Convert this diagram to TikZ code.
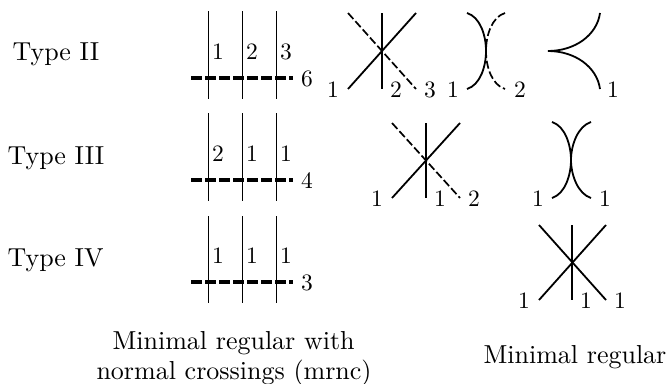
\documentclass[tikz,border=0pt]{standalone}
\begin{document}
\begin{tikzpicture}[x=1pt,y=-1pt,
  txt/.style={inner sep=0pt,scale=2.6,anchor=base west},
  num/.style={inner sep=0pt,scale=2.35,anchor=base},
  vert/.style={line width=1.0pt},
  hdash/.style={line width=3.2pt,dash pattern=on 11pt off 3pt},
  solid line/.style={line width=1.8pt},
  dash line/.style={line width=1.7pt,dash pattern=on 8pt off 3pt},
]
\useasboundingbox (0,0) rectangle (669,383);
% left labels
\node[txt] (t2) at (12,60) {Type II};
\node[txt] (t3) at (7,164) {Type III};
\node[txt] (t4) at (7,266) {Type IV};
% mrnc columns
\foreach \top/\bot/\hy/\a/\b/\c/\d in {11/99/78/1/2/3/6,113/201/180/2/1/1/4,216/303/282/1/1/1/3}{
  \draw[vert] (208,\top) -- (208,\bot);
  \draw[vert] (242,\top) -- (242,\bot);
  \draw[vert] (276,\top) -- (276,\bot);
  \draw[hdash] (191,\hy) -- (293,\hy);
  \node[num] at (218,\hy-19) {\a};
  \node[num] at (252,\hy-19) {\b};
  \node[num] at (286,\hy-19) {\c};
  \node[num] at (307,\hy+8) {\d};
}
% Type II minimal
\draw[solid line] (348,89) -- (416,13);
\draw[solid line] (382,13) -- (382,89);
\draw[dash line] (348,13) -- (416,89);
\node[num] at (333,97) {1};
\node[num] at (396,97) {2};
\node[num] at (430,97) {3};
\draw[solid line] (467,13) .. controls (480,17) and (486,35) .. (486,51) .. controls (486,67) and (480,85) .. (467,89);
\draw[dash line] (505,13) .. controls (492,17) and (486,35) .. (486,51) .. controls (486,67) and (492,85) .. (505,89);
\node[num] at (453,97) {1};
\node[num] at (520,97) {2};
\draw[solid line] (600,13) .. controls (597,35) and (575,51) .. (548,51) .. controls (575,51) and (597,67) .. (600,89);
\node[num] at (613,97) {1};
% Type III minimal
\draw[solid line] (392,198) -- (460,123);
\draw[solid line] (426,123) -- (426,198);
\draw[dash line] (392,123) -- (460,198);
\node[num] at (377,206) {1};
\node[num] at (440,206) {1};
\node[num] at (474,206) {2};
\draw[solid line] (552,122) .. controls (565,126) and (571,145) .. (571,160) .. controls (571,175) and (565,194) .. (552,198);
\draw[solid line] (591,122) .. controls (578,126) and (571,145) .. (571,160) .. controls (571,175) and (578,194) .. (591,198);
\node[num] at (538,206) {1};
\node[num] at (605,206) {1};
% Type IV minimal
\draw[solid line] (539,300) -- (606,225);
\draw[solid line] (572,225) -- (572,300);
\draw[solid line] (539,225) -- (606,300);
\node[num] at (524,308) {1};
\node[num] at (586,308) {1};
\node[num] at (620,308) {1};
% captions
\node[txt] (c1) at (112,349) {Minimal regular with};
\node[txt] (c2) at (96,379) {normal crossings (mrnc)};
\node[txt] (c3) at (483,363) {Minimal regular};
\end{tikzpicture}
\end{document}
